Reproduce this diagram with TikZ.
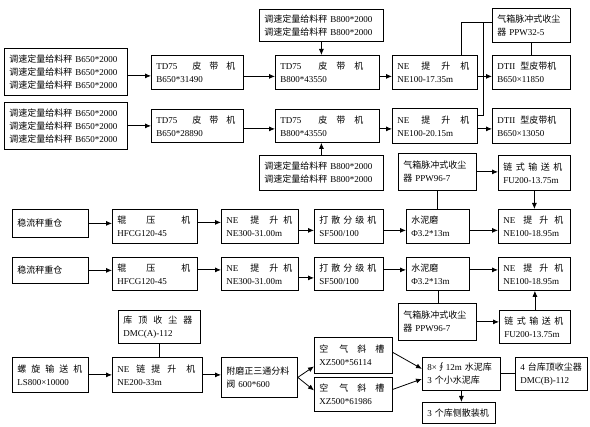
\documentclass[tikz,border=0pt]{standalone}
\usepackage{fontspec}
\setmainfont{Liberation Serif}
\newfontfamily\cjk{Noto Sans CJK SC}
\usetikzlibrary{arrows.meta}
\newcommand\zh[1]{{\cjk #1}}
\newcommand\gap[1]{\kern#1pt\relax}
\tikzset{
  box/.style={draw, line width=0.8pt, inner sep=0pt, align=left,
    font=\fontsize{9}{13}\selectfont, anchor=north west},
  arr/.style={line width=0.8pt, -{Latex[length=6pt,width=5pt]}},
  ln/.style={line width=0.8pt}
}
\newcommand\bx[6]{%
  \pgfmathsetmacro\bxw{#4-#2}%
  \pgfmathsetmacro\bxh{#5-#3}%
  \pgfmathsetmacro\bxt{#4-#2-10}%
  \node[box, minimum width=\bxw pt, minimum height=\bxh pt, text width=\bxt pt] (#1) at (#2,#3) {#6};}
\begin{document}
\begin{tikzpicture}[x=1pt,y=-1pt]
\useasboundingbox[fill=white] (0,0) rectangle (590,427);
% top section
\bx{F1}{4}{48}{127}{95}{\zh{调速定量给料秤} B650*2000\\\zh{调速定量给料秤} B650*2000\\\zh{调速定量给料秤} B650*2000}
\bx{F2}{4}{102}{127}{149}{\zh{调速定量给料秤} B650*2000\\\zh{调速定量给料秤} B650*2000\\\zh{调速定量给料秤} B650*2000}
\bx{T1}{151}{55}{243}{89}{TD75\gap{15}\zh{皮}\gap{8}\zh{带}\gap{8}\zh{机}\\B650*31490}
\bx{T2}{151}{109}{243}{142}{TD75\gap{15}\zh{皮}\gap{8}\zh{带}\gap{8}\zh{机}\\B650*28890}
\bx{G1}{259}{9}{383}{41}{\zh{调速定量给料秤} B800*2000\\\zh{调速定量给料秤} B800*2000}
\bx{G2}{259}{155}{383}{190}{\zh{调速定量给料秤} B800*2000\\\zh{调速定量给料秤} B800*2000}
\bx{M1}{275}{55}{379}{89}{TD75\gap{17}\zh{皮}\gap{9}\zh{带}\gap{9}\zh{机}\\B800*43550}
\bx{M2}{275}{109}{379}{142}{TD75\gap{17}\zh{皮}\gap{9}\zh{带}\gap{9}\zh{机}\\B800*43550}
\bx{E1}{392}{55}{477}{89}{NE\gap{12}\zh{提}\gap{11}\zh{升}\gap{10}\zh{机}\\NE100-17.35m}
\bx{E2}{392}{108}{477}{143}{NE\gap{12}\zh{提}\gap{11}\zh{升}\gap{10}\zh{机}\\NE100-20.15m}
\bx{P1}{492}{8}{570}{42}{\zh{气箱脉冲式收尘}\\\zh{器} PPW32-5}
\bx{D1}{492}{55}{570}{89}{DTII\gap{5}\zh{型皮带机}\\B650×11850}
\bx{D2}{492}{108}{570}{143}{DTII\gap{5}\zh{型皮带机}\\B650×13050}
% middle rows
\bx{S1}{12}{209}{88}{237}{\zh{稳流秤重仓}}
\bx{R1}{112}{209}{197}{243}{\zh{辊}\gap{20}\zh{压}\gap{26}\zh{机}\\HFCG120-45}
\bx{N1}{221}{209}{298}{243}{NE\gap{12}\zh{提}\gap{10}\zh{升}\gap{5}\zh{机}\\NE300-31.00m}
\bx{X1}{314}{209}{383}{243}{\zh{打}\gap{3}\zh{散}\gap{3}\zh{分}\gap{3}\zh{级}\gap{3}\zh{机}\\SF500/100}
\bx{W1}{406}{209}{469}{243}{\zh{水泥磨}\\Φ3.2*13m}
\bx{L1}{498}{209}{570}{243}{NE\gap{8}\zh{提}\gap{7}\zh{升}\gap{6}\zh{机}\\NE100-18.95m}
\bx{Q1}{398}{153}{476}{190}{\zh{气箱脉冲式收尘}\\\zh{器} PPW96-7}
\bx{C1}{498}{155}{570}{190}{\zh{链}\gap{3.5}\zh{式}\gap{3.5}\zh{输}\gap{3.5}\zh{送}\gap{3.5}\zh{机}\\FU200-13.75m}
\bx{S2}{12}{257}{88}{283}{\zh{稳流秤重仓}}
\bx{R2}{112}{257}{197}{290}{\zh{辊}\gap{20}\zh{压}\gap{26}\zh{机}\\HFCG120-45}
\bx{N2}{221}{257}{298}{290}{NE\gap{12}\zh{提}\gap{10}\zh{升}\gap{5}\zh{机}\\NE300-31.00m}
\bx{X2}{314}{257}{383}{290}{\zh{打}\gap{3}\zh{散}\gap{3}\zh{分}\gap{3}\zh{级}\gap{3}\zh{机}\\SF500/100}
\bx{W2}{406}{257}{469}{290}{\zh{水泥磨}\\Φ3.2*13m}
\bx{L2}{498}{257}{570}{290}{NE\gap{8}\zh{提}\gap{7}\zh{升}\gap{6}\zh{机}\\NE100-18.95m}
\bx{Q2}{398}{303}{476}{340}{\zh{气箱脉冲式收尘}\\\zh{器} PPW96-7}
\bx{C2}{499}{310}{570}{343}{\zh{链}\gap{3.5}\zh{式}\gap{3.5}\zh{输}\gap{3.5}\zh{送}\gap{3.5}\zh{机}\\FU200-13.75m}
% bottom section
\bx{K}{118}{310}{200}{343}{\zh{库}\gap{6}\zh{顶}\gap{6}\zh{收}\gap{6}\zh{尘}\gap{6}\zh{器}\\DMC(A)-112}
\bx{Y}{12}{357}{88}{392}{\zh{螺}\gap{5}\zh{旋}\gap{5}\zh{输}\gap{5}\zh{送}\gap{5}\zh{机}\\LS800×10000}
\bx{NC}{112}{357}{202}{392}{NE\gap{7}\zh{链}\gap{6}\zh{提}\gap{7}\zh{升}\gap{10}\zh{机}\\NE200-33m}
\bx{V}{221}{357}{297}{397}{\zh{附磨正三通分料}\\\zh{阀} 600*600}
\bx{A1}{314}{337}{392}{373}{\zh{空}\gap{11}\zh{气}\gap{9}\zh{斜}\gap{9}\zh{槽}\\XZ500*56114}
\bx{A2}{314}{377}{392}{411}{\zh{空}\gap{11}\zh{气}\gap{9}\zh{斜}\gap{9}\zh{槽}\\XZ500*61986}
\bx{WK}{422}{357}{500}{390}{8×\zh{∮}12m \zh{水泥库}\\3 \zh{个小水泥库}}
\bx{DM}{515}{357}{587}{390}{4 \zh{台库顶收尘器}\\DMC(B)-112}
\bx{B3}{422}{402}{495}{423}{3 \zh{个库侧散装机}}
% connectors: top
\draw[arr] ([yshift=-4pt]F1.east) -- ([yshift=-4pt]F1.east -| T1.west);
\draw[arr] ([yshift=-4pt]T1.east) -- ([yshift=-4pt]T1.east -| M1.west);
\draw[arr] ([yshift=-4pt]M1.east) -- ([yshift=-4pt]M1.east -| E1.west);
\draw[arr] ([yshift=-4pt]E1.east) -- ([yshift=-4pt]E1.east -| D1.west);
\draw[arr] (F2.east) -- (F2.east -| T2.west);
\draw[arr] ([yshift=-3pt]T2.east) -- ([yshift=-3pt]T2.east -| M2.west);
\draw[arr] ([yshift=-3pt]M2.east) -- ([yshift=-3pt]M2.east -| E2.west);
\draw[arr] ([yshift=-3pt]E2.east) -- ([yshift=-3pt]E2.east -| D2.west);
\draw[arr] (G1.south) -- (G1.south |- M1.north);
\draw[arr] (G2.north) -- (G2.north |- M2.south);
\coordinate (j) at ([xshift=-9pt,yshift=3pt]P1.west);
\draw[ln] ([xshift=26pt]E1.north) |- ([yshift=3pt]P1.west);
\draw[ln] (j) |- ([yshift=10pt]E2.east);
\draw[ln] (P1.south) -- (D1.north);
% connectors: row A
\draw[arr] (S1.east) -- (S1.east -| R1.west);
\draw[arr] ([yshift=4pt]R1.east) -- ([yshift=4pt]R1.east -| N1.west);
\draw[arr] ([yshift=-4pt]N1.east) -- ([yshift=-4pt]N1.east -| X1.west);
\draw[arr] ([yshift=-4pt]X1.east) -- ([yshift=-4pt]X1.east -| W1.west);
\draw[arr] ([yshift=-4pt]W1.east) -- ([yshift=-4pt]W1.east -| L1.west);
\draw[ln] (Q1.south) -- (Q1.south |- W1.north);
\draw[arr] (Q1.east) -- (Q1.east -| C1.west);
\draw[arr] (C1.south) -- (C1.south |- L1.north);
% connectors: row B
\draw[arr] (S2.east) -- (S2.east -| R2.west);
\draw[arr] ([yshift=4pt]R2.east) -- ([yshift=4pt]R2.east -| N2.west);
\draw[arr] ([yshift=-4pt]N2.east) -- ([yshift=-4pt]N2.east -| X2.west);
\draw[arr] ([yshift=4pt]X2.east) -- ([yshift=4pt]X2.east -| W2.west);
\draw[arr] ([yshift=4pt]W2.east) -- ([yshift=4pt]W2.east -| L2.west);
\draw[ln] (W2.south) -- (W2.south |- Q2.north);
\draw[arr] (Q2.east) -- (Q2.east -| C2.west);
\draw[arr] (C2.north) -- (C2.north |- L2.south);
% connectors: bottom
\draw[ln] (K.south) -- (K.south |- NC.north);
\draw[arr] (Y.east) -- (Y.east -| NC.west);
\draw[arr] (NC.east) -- (NC.east -| V.west);
\draw[arr] (V.east) -- ([yshift=-11pt]A1.west);
\draw[arr] (V.east) -- ([yshift=4pt]A2.west);
\draw[arr] ([yshift=3pt]A1.east) -- ([yshift=5pt]WK.west);
\draw[arr] ([yshift=5pt]A2.east) -- ([yshift=-5pt]WK.west);
\draw[ln] (WK.east) -- (WK.east -| DM.west);
\draw[arr] (WK.south) -- (WK.south |- B3.north);
\end{tikzpicture}
\end{document}
